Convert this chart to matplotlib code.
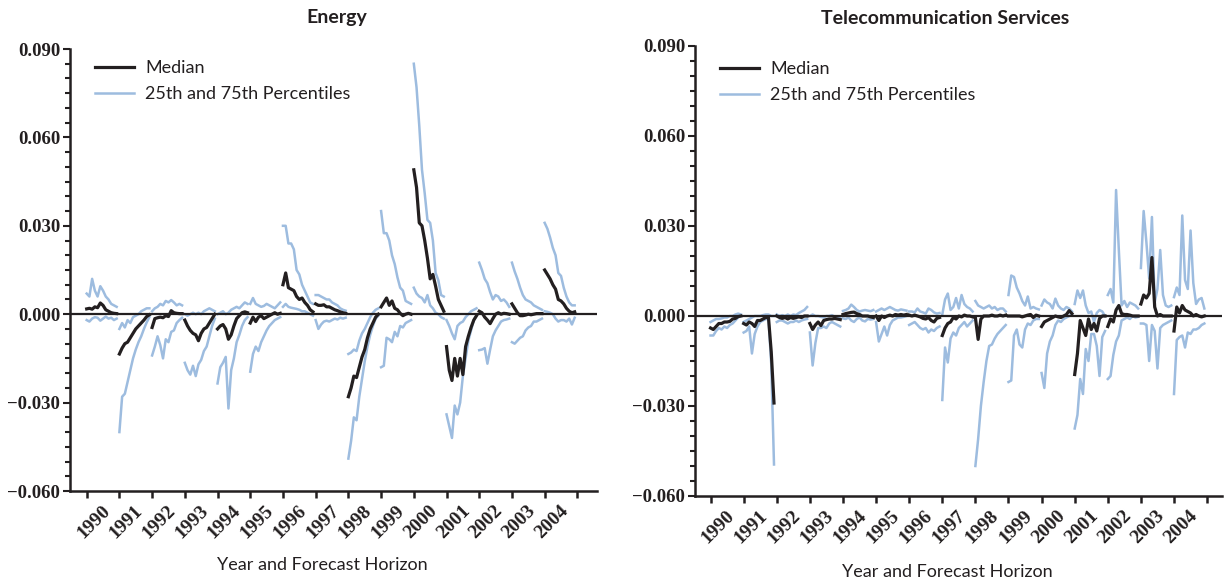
import matplotlib
matplotlib.use("Agg")
import matplotlib.pyplot as plt
import numpy as np

plt.rcParams['font.family'] = ['Lato', 'DejaVu Sans']

years = ['1990', '1991', '1992', '1993', '1994', '1995', '1996', '1997',
         '1998', '1999', '2000', '2001', '2002', '2003', '2004']
steps_per_year = 12  # forecast horizons drawn per target year

# Energy: one list per year, long horizon first
energy_median = [
    [0.0018, 0.0020, 0.0017, 0.0025, 0.0022, 0.0038, 0.0030, 0.0015, 0.0010, 0.0005, 0.0003, 0.0002],
    [-0.0135, -0.0115, -0.0100, -0.0095, -0.0080, -0.0065, -0.0050, -0.0040, -0.0030, -0.0020, -0.0008, -0.0002],
    [-0.0045, -0.0015, -0.0012, -0.0010, -0.0012, -0.0005, -0.0008, 0.0012, 0.0005, 0.0003, 0.0002, 0.0002],
    [-0.0020, -0.0040, -0.0055, -0.0065, -0.0070, -0.0090, -0.0065, -0.0050, -0.0045, -0.0030, -0.0015, 0.0000],
    [-0.0050, -0.0040, -0.0035, -0.0050, -0.0085, -0.0070, -0.0040, -0.0015, -0.0005, 0.0005, 0.0008, 0.0005],
    [-0.0030, -0.0010, -0.0025, -0.0010, -0.0005, -0.0015, -0.0010, -0.0005, 0.0000, 0.0005, 0.0000, 0.0003],
    [0.0100, 0.0140, 0.0090, 0.0085, 0.0080, 0.0060, 0.0050, 0.0055, 0.0040, 0.0030, 0.0015, 0.0008],
    [0.0035, 0.0030, 0.0030, 0.0032, 0.0025, 0.0025, 0.0020, 0.0015, 0.0012, 0.0008, 0.0005, 0.0003],
    [-0.0280, -0.0250, -0.0210, -0.0215, -0.0180, -0.0145, -0.0120, -0.0080, -0.0050, -0.0030, -0.0010, 0.0000],
    [0.0025, 0.0040, 0.0055, 0.0030, 0.0045, 0.0020, 0.0015, 0.0003, -0.0005, 0.0000, 0.0003, 0.0000],
    [0.0490, 0.0430, 0.0310, 0.0300, 0.0250, 0.0190, 0.0120, 0.0135, 0.0095, 0.0050, 0.0030, 0.0010],
    [-0.0110, -0.0190, -0.0225, -0.0150, -0.0210, -0.0150, -0.0205, -0.0110, -0.0075, -0.0045, -0.0020, -0.0005],
    [0.0010, 0.0005, -0.0010, -0.0020, -0.0032, -0.0015, 0.0000, 0.0005, 0.0000, 0.0003, 0.0002, 0.0000],
    [0.0035, 0.0020, 0.0005, -0.0005, -0.0005, -0.0003, 0.0000, -0.0002, 0.0000, 0.0002, 0.0002, 0.0002],
    [0.0150, 0.0135, 0.0120, 0.0100, 0.0085, 0.0050, 0.0045, 0.0035, 0.0020, 0.0010, 0.0005, 0.0008],
]
energy_p75 = [
    [0.0070, 0.0060, 0.0120, 0.0080, 0.0060, 0.0095, 0.0080, 0.0060, 0.0050, 0.0035, 0.0030, 0.0025],
    [-0.0050, -0.0030, -0.0045, -0.0020, -0.0030, -0.0010, -0.0005, 0.0000, 0.0010, 0.0015, 0.0020, 0.0020],
    [0.0010, 0.0020, 0.0025, 0.0035, 0.0030, 0.0045, 0.0040, 0.0048, 0.0040, 0.0030, 0.0035, 0.0030],
    [0.0000, -0.0005, 0.0000, 0.0005, 0.0000, 0.0005, 0.0000, 0.0010, 0.0015, 0.0020, 0.0015, 0.0010],
    [0.0000, 0.0005, 0.0010, 0.0000, 0.0005, 0.0015, 0.0020, 0.0025, 0.0020, 0.0030, 0.0040, 0.0035],
    [0.0035, 0.0055, 0.0035, 0.0030, 0.0025, 0.0028, 0.0035, 0.0030, 0.0025, 0.0020, 0.0030, 0.0040],
    [0.0300, 0.0300, 0.0240, 0.0240, 0.0220, 0.0150, 0.0135, 0.0100, 0.0080, 0.0060, 0.0040, 0.0035],
    [0.0065, 0.0065, 0.0060, 0.0055, 0.0050, 0.0050, 0.0040, 0.0035, 0.0030, 0.0020, 0.0015, 0.0012],
    [-0.0135, -0.0130, -0.0120, -0.0125, -0.0090, -0.0065, -0.0050, -0.0030, -0.0010, 0.0005, 0.0015, 0.0020],
    [0.0350, 0.0275, 0.0275, 0.0250, 0.0200, 0.0170, 0.0125, 0.0090, 0.0080, 0.0045, 0.0040, 0.0035],
    [0.0850, 0.0770, 0.0640, 0.0490, 0.0410, 0.0320, 0.0310, 0.0250, 0.0140, 0.0115, 0.0065, 0.0060],
    [-0.0020, -0.0040, -0.0065, -0.0085, -0.0040, -0.0030, -0.0025, -0.0010, 0.0000, 0.0010, 0.0015, 0.0020],
    [0.0175, 0.0150, 0.0120, 0.0105, 0.0075, 0.0050, 0.0065, 0.0060, 0.0045, 0.0050, 0.0040, 0.0025],
    [0.0175, 0.0145, 0.0120, 0.0090, 0.0065, 0.0050, 0.0045, 0.0040, 0.0030, 0.0025, 0.0020, 0.0015],
    [0.0310, 0.0290, 0.0260, 0.0225, 0.0200, 0.0140, 0.0130, 0.0090, 0.0060, 0.0040, 0.0030, 0.0030],
]
energy_p25 = [
    [-0.0020, -0.0025, -0.0015, -0.0010, -0.0012, -0.0022, -0.0015, -0.0008, -0.0015, -0.0012, -0.0020, -0.0015],
    [-0.0400, -0.0280, -0.0270, -0.0230, -0.0190, -0.0150, -0.0120, -0.0095, -0.0075, -0.0050, -0.0028, -0.0010],
    [-0.0140, -0.0110, -0.0075, -0.0105, -0.0150, -0.0085, -0.0095, -0.0060, -0.0055, -0.0030, -0.0020, -0.0012],
    [-0.0165, -0.0190, -0.0205, -0.0175, -0.0210, -0.0170, -0.0155, -0.0125, -0.0110, -0.0075, -0.0040, -0.0015],
    [-0.0235, -0.0180, -0.0165, -0.0145, -0.0320, -0.0190, -0.0150, -0.0095, -0.0070, -0.0040, -0.0020, -0.0010],
    [-0.0195, -0.0135, -0.0110, -0.0125, -0.0095, -0.0075, -0.0055, -0.0040, -0.0030, -0.0020, -0.0015, -0.0010],
    [0.0025, 0.0035, 0.0025, 0.0022, 0.0020, 0.0018, 0.0015, 0.0010, 0.0010, 0.0005, 0.0000, -0.0005],
    [-0.0020, -0.0050, -0.0035, -0.0025, -0.0022, -0.0025, -0.0020, -0.0015, -0.0018, -0.0012, -0.0015, -0.0012],
    [-0.0490, -0.0430, -0.0350, -0.0360, -0.0280, -0.0220, -0.0160, -0.0110, -0.0070, -0.0040, -0.0015, -0.0005],
    [-0.0180, -0.0175, -0.0080, -0.0085, -0.0095, -0.0060, -0.0075, -0.0040, -0.0045, -0.0030, -0.0025, -0.0020],
    [0.0090, 0.0070, 0.0060, 0.0055, 0.0040, 0.0065, 0.0030, 0.0020, 0.0005, 0.0000, -0.0010, -0.0015],
    [-0.0340, -0.0380, -0.0420, -0.0310, -0.0340, -0.0300, -0.0210, -0.0150, -0.0090, -0.0055, -0.0020, -0.0005],
    [-0.0122, -0.0120, -0.0115, -0.0168, -0.0120, -0.0075, -0.0055, -0.0040, -0.0025, -0.0020, -0.0018, -0.0015],
    [-0.0095, -0.0100, -0.0090, -0.0080, -0.0075, -0.0055, -0.0045, -0.0040, -0.0025, -0.0025, -0.0020, -0.0015],
    [0.0010, 0.0008, 0.0005, 0.0000, -0.0015, -0.0025, -0.0020, -0.0020, -0.0025, -0.0015, -0.0035, -0.0012],
]

# Telecommunication Services
telecom_median = [
    [-0.0040, -0.0045, -0.0035, -0.0025, -0.0025, -0.0020, -0.0020, -0.0018, -0.0010, -0.0008, -0.0002, 0.0000],
    [-0.0025, -0.0030, -0.0020, -0.0025, -0.0035, -0.0015, -0.0015, -0.0010, -0.0005, -0.0005, -0.0120, -0.0290],
    [0.0000, -0.0005, -0.0008, -0.0005, -0.0010, -0.0005, -0.0008, -0.0005, -0.0003, -0.0005, 0.0000, 0.0000],
    [-0.0025, -0.0045, -0.0030, -0.0020, -0.0032, -0.0015, -0.0012, -0.0010, -0.0010, -0.0008, -0.0010, -0.0012],
    [0.0005, 0.0008, 0.0010, 0.0012, 0.0013, 0.0008, 0.0005, 0.0000, 0.0000, 0.0000, -0.0003, -0.0005],
    [0.0000, -0.0015, 0.0000, -0.0005, 0.0000, 0.0003, 0.0000, 0.0005, 0.0003, 0.0005, 0.0003, 0.0005],
    [0.0003, 0.0000, 0.0003, 0.0000, -0.0003, -0.0008, -0.0010, -0.0005, -0.0015, -0.0020, -0.0008, -0.0005],
    [-0.0065, -0.0040, -0.0025, -0.0020, -0.0005, -0.0010, 0.0000, -0.0003, 0.0003, 0.0000, 0.0000, -0.0003],
    [-0.0005, -0.0078, -0.0010, 0.0000, 0.0000, 0.0000, 0.0003, 0.0000, 0.0000, 0.0003, 0.0000, 0.0003],
    [0.0000, 0.0000, 0.0000, 0.0000, 0.0000, -0.0003, 0.0000, 0.0003, 0.0005, -0.0005, 0.0003, 0.0000],
    [-0.0035, -0.0020, -0.0015, -0.0010, -0.0005, 0.0000, -0.0003, -0.0005, 0.0000, 0.0005, 0.0018, 0.0008],
    [-0.0195, -0.0125, -0.0015, -0.0040, -0.0065, -0.0010, -0.0045, -0.0025, -0.0050, -0.0008, 0.0000, 0.0000],
    [-0.0035, -0.0010, -0.0020, 0.0020, 0.0035, 0.0008, 0.0005, 0.0005, 0.0003, 0.0000, 0.0000, 0.0000],
    [0.0040, 0.0070, 0.0060, 0.0075, 0.0195, 0.0030, 0.0000, 0.0005, 0.0000, 0.0000, 0.0000, 0.0000],
    [-0.0050, 0.0030, 0.0010, 0.0035, 0.0020, 0.0015, 0.0010, 0.0000, 0.0005, 0.0000, -0.0003, 0.0000],
]
telecom_p75 = [
    [-0.0020, -0.0015, -0.0010, -0.0010, -0.0008, -0.0005, -0.0005, 0.0000, 0.0000, 0.0005, 0.0008, 0.0005],
    [-0.0020, -0.0015, -0.0010, -0.0005, 0.0000, 0.0000, 0.0000, 0.0003, 0.0005, 0.0005, 0.0000, 0.0000],
    [0.0005, 0.0000, 0.0003, 0.0000, 0.0005, 0.0000, 0.0005, 0.0003, 0.0010, 0.0015, 0.0020, 0.0030],
    [0.0000, 0.0005, 0.0000, 0.0000, -0.0003, -0.0005, 0.0000, 0.0000, 0.0003, -0.0002, -0.0005, -0.0005],
    [0.0017, 0.0020, 0.0025, 0.0038, 0.0030, 0.0020, 0.0015, 0.0018, 0.0020, 0.0018, 0.0016, 0.0020],
    [0.0015, 0.0020, 0.0025, 0.0020, 0.0025, 0.0030, 0.0025, 0.0020, 0.0018, 0.0022, 0.0020, 0.0018],
    [0.0015, 0.0015, 0.0012, 0.0025, 0.0015, 0.0012, 0.0008, 0.0025, 0.0020, 0.0012, 0.0008, 0.0010],
    [0.0005, 0.0055, 0.0075, 0.0020, 0.0030, 0.0060, 0.0025, 0.0070, 0.0040, 0.0030, 0.0025, 0.0015],
    [0.0050, 0.0035, 0.0030, 0.0025, 0.0030, 0.0035, 0.0025, 0.0030, 0.0020, 0.0025, 0.0025, 0.0015],
    [0.0070, 0.0135, 0.0130, 0.0095, 0.0075, 0.0050, 0.0035, 0.0065, 0.0025, 0.0030, 0.0025, 0.0022],
    [0.0035, 0.0055, 0.0045, 0.0040, 0.0025, 0.0058, 0.0035, 0.0025, 0.0020, 0.0030, 0.0025, 0.0015],
    [0.0040, 0.0085, 0.0060, 0.0085, 0.0035, 0.0010, 0.0015, -0.0020, 0.0010, 0.0020, 0.0015, 0.0000],
    [0.0070, 0.0090, 0.0045, 0.0420, 0.0220, 0.0035, 0.0050, 0.0030, 0.0045, 0.0040, 0.0035, 0.0025],
    [0.0160, 0.0350, 0.0245, 0.0125, 0.0330, 0.0045, 0.0090, 0.0220, 0.0070, 0.0035, 0.0030, 0.0035],
    [0.0063, 0.0095, 0.0070, 0.0335, 0.0120, 0.0090, 0.0285, 0.0110, 0.0040, 0.0055, 0.0060, 0.0025],
]
telecom_p25 = [
    [-0.0065, -0.0065, -0.0050, -0.0040, -0.0045, -0.0035, -0.0040, -0.0030, -0.0025, -0.0015, -0.0005, 0.0000],
    [-0.0055, -0.0050, -0.0035, -0.0125, -0.0060, -0.0035, -0.0020, -0.0015, -0.0010, -0.0010, -0.0160, -0.0495],
    [-0.0020, -0.0015, -0.0015, -0.0020, -0.0025, -0.0020, -0.0020, -0.0015, -0.0020, -0.0015, -0.0012, -0.0010],
    [-0.0055, -0.0165, -0.0090, -0.0040, -0.0040, -0.0035, -0.0040, -0.0025, -0.0020, -0.0025, -0.0030, -0.0035],
    [-0.0008, -0.0010, -0.0005, -0.0015, -0.0020, -0.0010, -0.0005, -0.0015, -0.0018, -0.0010, -0.0012, -0.0010],
    [-0.0020, -0.0085, -0.0060, -0.0035, -0.0065, -0.0030, -0.0015, -0.0010, -0.0005, -0.0005, -0.0003, 0.0000],
    [-0.0030, -0.0025, -0.0020, -0.0030, -0.0040, -0.0045, -0.0040, -0.0055, -0.0045, -0.0050, -0.0040, -0.0035],
    [-0.0280, -0.0105, -0.0155, -0.0075, -0.0055, -0.0065, -0.0040, -0.0030, -0.0020, -0.0035, -0.0025, -0.0015],
    [-0.0500, -0.0410, -0.0300, -0.0220, -0.0150, -0.0100, -0.0095, -0.0075, -0.0060, -0.0050, -0.0040, -0.0030],
    [-0.0220, -0.0215, -0.0065, -0.0045, -0.0095, -0.0105, -0.0045, -0.0025, -0.0030, -0.0015, -0.0010, -0.0010],
    [-0.0190, -0.0240, -0.0125, -0.0085, -0.0065, -0.0030, -0.0015, -0.0020, -0.0010, -0.0005, 0.0000, 0.0005],
    [-0.0375, -0.0330, -0.0210, -0.0260, -0.0110, -0.0150, -0.0060, -0.0060, -0.0100, -0.0200, -0.0070, -0.0050],
    [-0.0210, -0.0200, -0.0130, -0.0085, -0.0065, -0.0015, -0.0010, -0.0005, -0.0010, 0.0000, -0.0005, -0.0003],
    [-0.0025, -0.0025, -0.0030, -0.0150, -0.0030, -0.0050, -0.0175, -0.0040, -0.0030, -0.0025, -0.0020, -0.0015],
    [-0.0260, -0.0080, -0.0070, -0.0065, -0.0105, -0.0055, -0.0060, -0.0045, -0.0045, -0.0040, -0.0030, -0.0025],
]

MEDIAN_COLOR = '#231f20'
PCT_COLOR = '#9dbcdf'
TICK_FAMILY = 'Liberation Serif'


def stitch(segments):
    """joins the yearly segments into one x/y pair, with a NaN gap between years"""
    xs, ys = [], []
    for i, seg in enumerate(segments):
        xs.extend(i + np.arange(len(seg)) / steps_per_year)
        ys.extend(seg)
        xs.append(np.nan)
        ys.append(np.nan)
    return np.array(xs), np.array(ys)


def fmt_value(v, pos):
    if abs(v) < 1e-9:
        return '0.000'
    return ('%.3f' % v).replace('-', '\u2212')


def draw_panel(ax, median, p75, p25, xlim, legend_anchor):
    x, y = stitch(p75)
    ax.plot(x, y, color=PCT_COLOR, lw=1.8, zorder=2,
            label='25th and 75th Percentiles')
    x, y = stitch(p25)
    ax.plot(x, y, color=PCT_COLOR, lw=1.8, zorder=2)
    ax.axhline(0, color=MEDIAN_COLOR, lw=1.6, zorder=3)
    x, y = stitch(median)
    ax.plot(x, y, color=MEDIAN_COLOR, lw=2.3, zorder=4, label='Median')

    ax.set_xlim(*xlim)
    ax.set_ylim(-0.060, 0.090)

    for side in ('top', 'right'):
        ax.spines[side].set_visible(False)
    for side in ('left', 'bottom'):
        ax.spines[side].set_linewidth(1.8)
        ax.spines[side].set_color(MEDIAN_COLOR)

    # y axis: labelled every 0.030, small ticks every 0.005
    ax.set_yticks(np.arange(-0.060, 0.0901, 0.030))
    ax.set_yticks(np.arange(-0.060, 0.0901, 0.005), minor=True)
    ax.yaxis.set_major_formatter(matplotlib.ticker.FuncFormatter(fmt_value))
    ax.tick_params(axis='y', which='major', length=5, width=1.5, pad=2,
                   color=MEDIAN_COLOR)
    ax.tick_params(axis='y', which='minor', length=3.5, width=1.5,
                   color=MEDIAN_COLOR)

    # x axis: ticks at the year boundaries, year names placed inside each year
    ax.set_xticks(np.arange(len(years) + 1))
    ax.set_xticklabels([])
    ax.set_xticks(np.arange(len(years)) + 0.45, minor=True)
    ax.set_xticklabels(years, minor=True, rotation=45, ha='right', va='top',
                       rotation_mode='anchor')
    ax.tick_params(axis='x', which='major', length=5, width=1.8,
                   color=MEDIAN_COLOR)
    ax.tick_params(axis='x', which='minor', length=0, pad=8)

    for lab in ax.get_yticklabels():
        lab.set_fontfamily(TICK_FAMILY)
        lab.set_fontweight('bold')
        lab.set_fontsize(13.5)
        lab.set_color(MEDIAN_COLOR)
    for lab in ax.get_xticklabels(minor=True):
        lab.set_fontfamily(TICK_FAMILY)
        lab.set_fontweight('bold')
        lab.set_fontsize(14)
        lab.set_color(MEDIAN_COLOR)

    handles, labels = ax.get_legend_handles_labels()
    ax.legend(handles[::-1], labels[::-1], loc='upper left',
              bbox_to_anchor=legend_anchor, frameon=False, fontsize=13,
              handlelength=2.2, handletextpad=0.6, labelspacing=0.55,
              borderaxespad=0, borderpad=0, labelcolor=MEDIAN_COLOR)


fig = plt.figure(figsize=(12.25, 5.8), dpi=100)
ax1 = fig.add_axes([70 / 1225, 1 - 491 / 580, 527 / 1225, 442 / 580])
ax2 = fig.add_axes([695 / 1225, 1 - 496 / 580, 527 / 1225, 450 / 580])

draw_panel(ax1, energy_median, energy_p75, energy_p25, (-0.51, 15.6), (0.047, 0.975))
draw_panel(ax2, telecom_median, telecom_p75, telecom_p25, (-0.47, 15.45), (0.047, 0.966))

fig.text(337 / 1225, 1 - 18 / 580, 'Energy', ha='center', va='center',
         fontsize=14, fontweight='bold', color=MEDIAN_COLOR)
fig.text(945 / 1225, 1 - 18 / 580, 'Telecommunication Services', ha='center',
         va='center', fontsize=14, fontweight='bold', color=MEDIAN_COLOR)
fig.text(322 / 1225, 1 - 565 / 580, 'Year and Forecast Horizon', ha='center',
         va='center', fontsize=13, color=MEDIAN_COLOR)
fig.text(947 / 1225, 1 - 572 / 580, 'Year and Forecast Horizon', ha='center',
         va='center', fontsize=13, color=MEDIAN_COLOR)

fig.savefig('out.png', dpi=100)
